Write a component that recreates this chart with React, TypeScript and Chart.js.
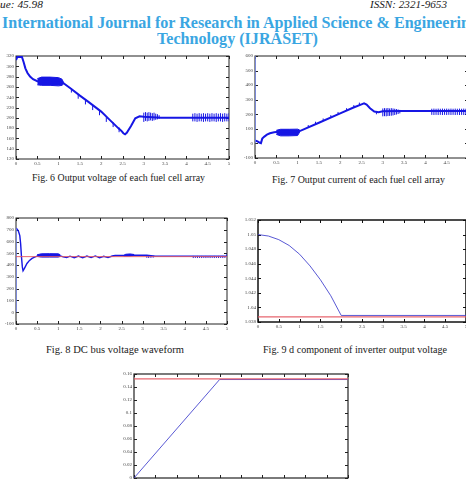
import React, { useEffect, useLayoutEffect, useRef } from "react";
import { Chart, registerables } from "chart.js";
Chart.register(...registerables);

type P = [number, number];
type S = [number, number, number];

// ---------- Fig. 6 : output voltage of each fuel cell array ----------
const fig6Main: P[] = [[0,312],[0.03,318],[0.14,318],[0.18,308],[0.22,296],[0.27,287],[0.33,280],[0.4,275],[0.5,271],[1.1,268],[1.3,256],[1.5,243],[1.7,231],[2.0,212],[2.2,196],[2.4,180],[2.47,175],[2.52,170],[2.56,168],[2.6,171],[2.7,184],[2.8,199],[2.9,203],[3.0,202],[3.4,200],[5,200]];
const fig6BandUpper: P[] = [[0.5,276],[0.6,279],[0.8,279],[1.0,278],[1.08,275],[1.12,268]];
const fig6BandLower: P[] = [[0.5,264],[0.6,263],[0.8,263],[1.0,262],[1.08,263],[1.12,266]];
const fig6Spikes: S[] = [[1.3,249,257],[1.46,237,245],[1.63,226,234],[1.8,215,224],[1.96,205,214],[2.12,192,201],[2.28,182,191],[2.42,172,181],
  [3.0,192,210],[3.04,194,211],[3.08,193,210],[3.12,194,211],[3.16,195,210],[3.2,194,209],[3.24,195,210],[3.28,196,208],[3.32,197,207],[3.36,198,205],
  [4.15,193,208],[4.2,193,209],[4.25,192,208],[4.3,193,209],[4.35,193,208],[4.4,192,209],[4.45,193,208],[4.5,193,209],[4.55,192,208],[4.6,193,209],[4.65,193,208],[4.7,192,209],[4.75,193,208],[4.8,193,209],[4.85,192,208],[4.9,193,209],[4.95,193,208],[5.0,193,209]];

// ---------- Fig. 7 : output current of each fuel cell array ----------
const fig7Vertical: P[] = [[0,0],[0,600]];
const fig7Main: P[] = [[0,20],[0.06,14],[0.1,6],[0.14,2],[0.17,33],[0.22,47],[0.28,60],[0.35,70],[0.45,76],[0.5,78],[1.05,85],[1.5,142],[2.0,206],[2.3,245],[2.5,268],[2.56,275],[2.62,266],[2.7,242],[2.8,219],[2.9,214],[3.0,220],[3.45,222],[5,222]];
const fig7BandUpper: P[] = [[0.5,90],[0.6,97],[0.8,97],[1.0,98],[1.05,92]];
const fig7BandLower: P[] = [[0.5,62],[0.6,52],[0.8,52],[1.0,54],[1.05,78]];
const fig7Spikes: S[] = [[1.25,110,126],[1.42,132,149],[1.6,154,171],[1.78,177,194],[1.95,199,216],[2.15,224,242],[2.32,246,263],[2.45,262,280],[2.85,200,218],
  [3.0,186,240],[3.04,187,242],[3.08,186,241],[3.12,188,243],[3.16,189,240],[3.2,190,242],[3.24,192,240],[3.28,195,238],[3.32,198,236],[3.36,202,233],[3.4,206,230],
  [4.15,196,238],[4.2,195,239],[4.25,196,238],[4.3,195,239],[4.35,196,238],[4.4,195,239],[4.45,196,238],[4.5,195,239],[4.55,196,238],[4.6,195,239],[4.65,196,238],[4.7,195,239],[4.75,196,238],[4.8,195,239],[4.85,196,238],[4.9,195,239],[4.95,196,238],[5.0,195,239]];

// ---------- Fig. 8 : DC bus voltage waveform ----------
const fig8Vertical: P[] = [[0,0],[0,712]];
const fig8Main: P[] = [[0,712],[0.03,705],[0.06,686],[0.09,650],[0.11,580],[0.13,470],[0.15,385],[0.167,352],[0.2,372],[0.26,414],[0.32,440],[0.38,457],[0.44,468],[0.5,476],[1.05,478],[1.12,470],[1.2,464],[1.28,476],[1.38,463],[1.48,477],[1.58,462],[1.68,477],[1.78,464],[1.88,478],[1.98,462],[2.08,475],[2.18,464],[2.28,477],[2.35,481],[2.55,481],[2.8,485],[3.1,484],[3.3,476],[5,476]];
const fig8BandUpper: P[] = [[0.5,488],[0.6,496],[0.8,497],[1.0,496],[1.05,488]];
const fig8BandLower: P[] = [[0.5,474],[0.6,468],[0.8,468],[1.0,468],[1.05,474]];
const fig8Band2Upper: P[] = [[2.55,482],[2.6,492],[2.7,495],[2.8,490]];
const fig8Band2Lower: P[] = [[2.55,479],[2.6,478],[2.7,478],[2.8,482]];
const fig8Spikes: S[] = [[3.1,462,484],[3.14,462,483],[3.18,463,482],[3.22,464,480],[3.26,465,479],
  [4.2,460,478],[4.25,461,477],[4.3,460,478],[4.35,461,477],[4.4,460,478],[4.45,461,477],[4.5,460,478],[4.55,461,477],[4.6,460,478],[4.65,461,477],[4.7,460,478],[4.75,461,477],[4.8,460,478],[4.85,461,477],[4.9,460,478],[4.95,461,477],[5.0,476,496]];
const fig8Red: P[] = [[0,472],[5,472]];

// ---------- Fig. 9 : d component of inverter output voltage ----------
const fig9Blue: P[] = [[0,1.05],[0.25,1.0498],[0.5,1.0493],[0.75,1.0485],[1,1.0473],[1.25,1.0457],[1.5,1.0438],[1.75,1.0416],[2,1.0389],[5,1.0389]];
const fig9Red: P[] = [[0,1.0387],[5,1.0387]];

// ---------- bottom figure ----------
const fig10Blue: P[] = [[0,0],[2,0.1515],[5,0.1515]];
const fig10Red: P[] = [[0,0.1525],[5,0.1525]];

const BLUE = "rgb(22,22,228)";
const LIGHT = "rgb(115,135,240)";
const BLUE2 = "rgba(60,60,205,0.85)";
const RED = "rgba(228,85,95,0.9)";

const xy = (pts: P[]) => pts.map(([x, y]) => ({ x, y }));
const spikes = (s: S[]) => s.flatMap(([x, lo, hi]) => [{ x, y: lo }, { x, y: hi }, { x, y: null as any }]);
const line = (data: any[], color: string, width: number, extra: any = {}) => ({
  data, borderColor: color, borderWidth: width, pointRadius: 0, fill: false, spanGaps: false, tension: 0, ...extra,
});
const band = (up: P[], lo: P[], color: string) => [
  line(xy(up), color, 1),
  line(xy(lo), color, 1, { fill: "-1", backgroundColor: color }),
];

const boxTicks = {
  id: "boxTicks",
  beforeDatasetsDraw(chart: any, _a: any, o: any) {
    const { ctx, chartArea: a, scales } = chart;
    const len = o.len ?? 3;
    ctx.save();
    ctx.strokeStyle = o.color;
    ctx.lineWidth = 1;
    const seg = (x1: number, y1: number, x2: number, y2: number) => {
      ctx.beginPath(); ctx.moveTo(x1, y1); ctx.lineTo(x2, y2); ctx.stroke();
    };
    scales.x.ticks.forEach((t: any) => {
      const p = Math.round(scales.x.getPixelForValue(t.value)) + 0.5;
      seg(p, a.bottom, p, a.bottom - len);
      seg(p, a.top, p, a.top + len);
    });
    scales.y.ticks.forEach((t: any) => {
      const p = Math.round(scales.y.getPixelForValue(t.value)) + 0.5;
      seg(a.left, p, a.left + len, p);
      seg(a.right, p, a.right - len, p);
    });
    ctx.lineWidth = o.width;
    ctx.strokeRect(a.left, a.top, a.right - a.left, a.bottom - a.top);
    ctx.restore();
  },
};

type Spec = {
  L: number; T: number; R: number; B: number; yw: number; xh: number; pt: number; pr: number;
  yMin: number; yMax: number; yStep: number; datasets: any[]; border: string; bw: number;
};

const fmt = (v: any) => String(+Number(v).toFixed(4));

function makeConfig(s: Spec): any {
  const tickFont = { size: 5, family: '"Liberation Serif", serif' };
  return {
    type: "line",
    data: { datasets: s.datasets },
    plugins: [boxTicks],
    options: {
      animation: false,
      responsive: false,
      maintainAspectRatio: false,
      events: [],
      layout: { padding: { top: s.pt, right: s.pr, left: 0, bottom: 0 } },
      plugins: { legend: { display: false }, tooltip: { enabled: false }, title: { display: false }, boxTicks: { color: s.border, width: s.bw, len: 3 } },
      scales: {
        x: {
          type: "linear", min: 0, max: 5, offset: false,
          grid: { display: false, drawTicks: false }, border: { display: false },
          ticks: { stepSize: 0.5, autoSkip: false, maxRotation: 0, padding: 2, font: tickFont, color: "#444", callback: fmt },
          afterFit: (sc: any) => { sc.height = s.xh; },
        },
        y: {
          type: "linear", min: s.yMin, max: s.yMax,
          grid: { display: false, drawTicks: false }, border: { display: false },
          ticks: { stepSize: s.yStep, autoSkip: false, padding: 2, font: tickFont, color: "#444", callback: fmt },
          afterFit: (sc: any) => { sc.width = s.yw; },
        },
      },
    },
  };
}

function Plot({ spec }: { spec: Spec }) {
  const ref = useRef<HTMLCanvasElement>(null);
  useEffect(() => {
    const c = new Chart(ref.current as HTMLCanvasElement, makeConfig(spec));
    return () => c.destroy();
  }, []);
  const left = spec.L - spec.yw;
  const top = spec.T - spec.pt;
  const width = spec.R - spec.L + spec.yw + spec.pr;
  const height = spec.B - spec.T + spec.pt + spec.xh;
  return <canvas ref={ref} width={width} height={height} style={{ position: "absolute", left, top, width, height }} />;
}

function FitText({ x, y, w, size, text, color = "#1a1a1a", bold = false, italic = false }: any) {
  const ref = useRef<HTMLSpanElement>(null);
  useLayoutEffect(() => {
    const el = ref.current;
    if (!el) return;
    el.style.transform = "none";
    const nat = el.getBoundingClientRect().width;
    if (nat > 0) el.style.transform = `scaleX(${w / nat})`;
  }, [w, text]);
  return (
    <span ref={ref} style={{
      position: "absolute", left: x, top: y, fontFamily: '"Liberation Serif", serif', fontSize: size, lineHeight: 1,
      whiteSpace: "nowrap", transformOrigin: "0 0", color, fontWeight: bold ? 700 : 400, fontStyle: italic ? "italic" : "normal",
    }}>{text}</span>
  );
}

const spec6: Spec = {
  L: 16, T: 56, R: 229, B: 159, yw: 16, xh: 9, pt: 6, pr: 5, yMin: 120, yMax: 320, yStep: 20, border: "#222", bw: 1,
  datasets: [line(xy(fig6Main), BLUE, 2), ...band(fig6BandUpper, fig6BandLower, BLUE), line(spikes(fig6Spikes), BLUE, 1)],
};
const spec7: Spec = {
  L: 255, T: 56, R: 468, B: 158, yw: 15, xh: 9, pt: 6, pr: 5, yMin: -100, yMax: 600, yStep: 100, border: "#222", bw: 1,
  datasets: [line(xy(fig7Vertical), LIGHT, 1.5), line(xy(fig7Main), BLUE, 2), ...band(fig7BandUpper, fig7BandLower, BLUE), line(spikes(fig7Spikes), BLUE, 1)],
};
const spec8: Spec = {
  L: 16, T: 218, R: 227, B: 324, yw: 16, xh: 9, pt: 6, pr: 5, yMin: -100, yMax: 800, yStep: 100, border: "#222", bw: 1,
  datasets: [line(xy(fig8Red), RED, 1), line(xy(fig8Vertical), LIGHT, 1.5), line(xy(fig8Main), BLUE, 1.4), ...band(fig8BandUpper, fig8BandLower, BLUE), ...band(fig8Band2Upper, fig8Band2Lower, BLUE), line(spikes(fig8Spikes), BLUE, 1)],
};
const spec9: Spec = {
  L: 258, T: 220, R: 466, B: 322, yw: 18, xh: 9, pt: 6, pr: 5, yMin: 1.038, yMax: 1.052, yStep: 0.002, border: "#111", bw: 1.5,
  datasets: [line(xy(fig9Red), RED, 1.2), line(xy(fig9Blue), BLUE2, 1)],
};
const spec10: Spec = {
  L: 134, T: 374, R: 348, B: 478, yw: 14, xh: 9, pt: 6, pr: 5, yMin: 0, yMax: 0.16, yStep: 0.02, border: "#222", bw: 1.2,
  datasets: [line(xy(fig10Red), RED, 1.2), line(xy(fig10Blue), BLUE2, 1)],
};

export default function App() {
  return (
    <div style={{ position: "fixed", left: 0, top: 0, width: 466, height: 481, overflow: "hidden", background: "#fff" }}>
      <FitText x={0} y={0} w={43} size={10} italic text="ue: 45.98" />
      <FitText x={370} y={0} w={77} size={10} italic text="ISSN: 2321-9653" />
      <FitText x={2} y={13.5} w={476} size={17} bold color="rgb(58,166,226)" text="International Journal for Research in Applied Science & Engineering" />
      <FitText x={157} y={30} w={161} size={17} bold color="rgb(58,166,226)" text="Technology (IJRASET)" />
      <Plot spec={spec6} />
      <Plot spec={spec7} />
      <Plot spec={spec8} />
      <Plot spec={spec9} />
      <Plot spec={spec10} />
      <FitText x={32} y={171.5} w={173} size={11} text="Fig. 6 Output voltage of each fuel cell array" />
      <FitText x={272} y={174} w={173} size={11} text="Fig. 7 Output current of each fuel cell array" />
      <FitText x={46} y={344} w={138} size={11} text="Fig. 8 DC bus voltage waveform" />
      <FitText x={263} y={344} w={184} size={11} text="Fig. 9 d component of inverter output voltage" />
    </div>
  );
}
